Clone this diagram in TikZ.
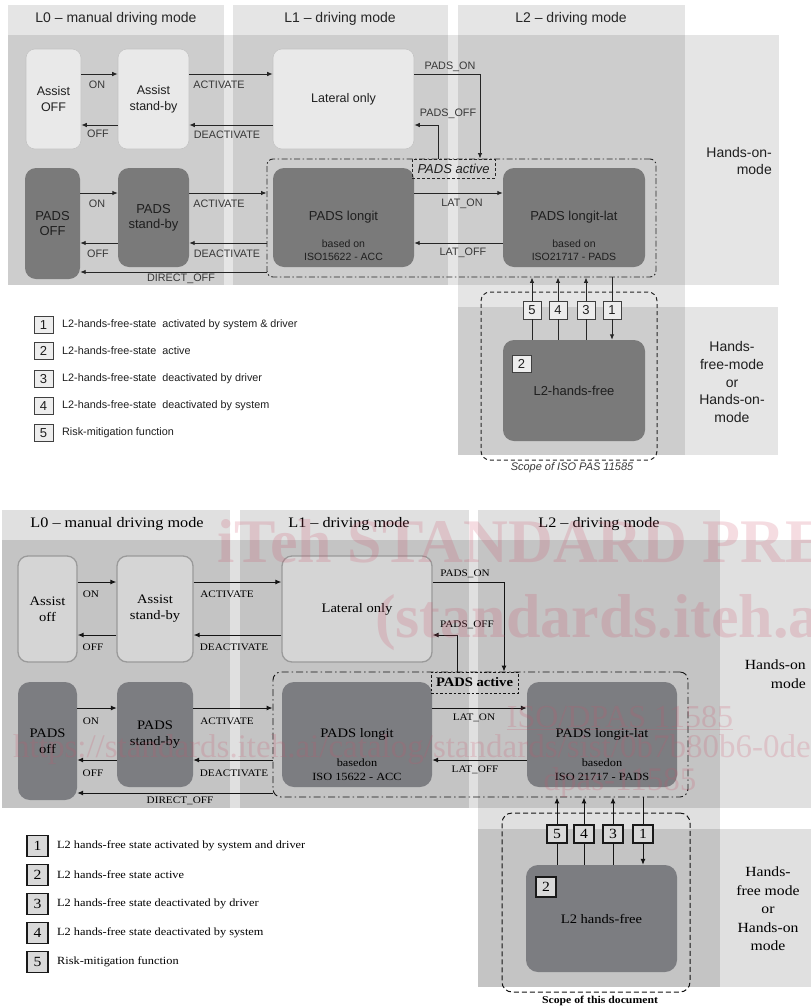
\documentclass[tikz,border=0pt]{standalone}
\usepackage{fontspec}
\setmainfont{Liberation Sans}
\newfontfamily\sfA{Liberation Sans}
\newfontfamily\srB[FakeStretch=1.12]{Liberation Serif}
\newfontfamily\wmf{Liberation Serif}
\usetikzlibrary{arrows.meta}
\newcommand\fsz[2]{\fontsize{#1}{#2}\selectfont}
\definecolor{ltA}{HTML}{E9E9E9}
\definecolor{ltAd}{HTML}{C4C4C4}
\definecolor{dkA}{HTML}{7A7A7A}
\definecolor{txA}{HTML}{1F1F1F}
\definecolor{lbA}{HTML}{383838}
\definecolor{arA}{HTML}{262626}
\definecolor{ltB}{HTML}{D5D5D5}
\definecolor{ltBd}{HTML}{9A9A9A}
\definecolor{dkB}{HTML}{7C7D81}
\definecolor{arB}{HTML}{141414}
\definecolor{wmc}{RGB}{205,80,105}
\tikzset{
  bandA/.style={fill=black, fill opacity=0.10},
  bandB/.style={fill=black, fill opacity=0.12},
  hdrA/.style={font=\sfA\fsz{14}{16}, text=black!85, inner sep=0pt},
  lnA/.style={rectangle, rounded corners=9pt, fill=ltA, draw=ltAd, line width=0.6pt, align=center, font=\sfA\fsz{12.5}{16}, text=txA, inner sep=0pt},
  dnA/.style={rectangle, rounded corners=11pt, fill=dkA, draw=none, align=center, font=\sfA\fsz{13}{15}, text=txA, inner sep=0pt},
  subA/.style={align=center, font=\sfA\fsz{10.5}{13.5}, text=txA, inner sep=0pt},
  arrA/.style={draw=arA, line width=0.9pt, -{Latex[length=5.5pt,width=4.5pt]}},
  lineA/.style={draw=arA, line width=0.9pt},
  lblA/.style={font=\sfA\fsz{10.8}{12}, text=lbA, inner sep=0.5pt},
  actA/.style={rectangle, rounded corners=6pt, draw=arA, line width=0.9pt, dash pattern=on 6pt off 2.5pt on 1.5pt off 2.5pt, inner sep=0pt},
  albA/.style={rectangle, draw=arA, line width=0.8pt, dash pattern=on 3pt off 2pt, inner sep=0pt, font=\sfA\itshape\fsz{13}{15}, text=txA},
  numA/.style={rectangle, draw=black!75, fill=black!7, line width=0.8pt, minimum width=18pt, minimum height=18pt, inner sep=0pt, font=\sfA\fsz{13}{15}, text=txA},
  scopeA/.style={rectangle, rounded corners=9pt, draw=arA, line width=1pt, dash pattern=on 4pt off 3pt, inner sep=0pt},
  handsA/.style={font=\sfA\fsz{14}{17.8}, text=txA, inner sep=0pt},
  legtA/.style={font=\sfA\fsz{10.8}{12}, text=txA, inner sep=0pt, anchor=west},
  hdrB/.style={font=\srB\fsz{14.5}{16}, text=black, inner sep=0pt},
  lnB/.style={rectangle, rounded corners=10pt, fill=ltB, draw=ltBd, line width=1.3pt, align=center, font=\srB\fsz{13}{16}, text=black, inner sep=0pt},
  dnB/.style={rectangle, rounded corners=12pt, fill=dkB, draw=none, align=center, font=\srB\fsz{13}{16}, text=black, inner sep=0pt},
  subB/.style={align=center, font=\srB\fsz{11}{14}, text=black, inner sep=0pt},
  arrB/.style={draw=arB, line width=1pt, -{Latex[length=6pt,width=5pt]}},
  lineB/.style={draw=arB, line width=1pt},
  lblB/.style={font=\srB\fsz{10}{12}, text=black, inner sep=0.5pt},
  actB/.style={rectangle, rounded corners=8pt, draw=arB, line width=0.9pt, dash pattern=on 7pt off 3pt on 1.5pt off 3pt, inner sep=0pt},
  albB/.style={rectangle, draw=arB, line width=0.8pt, dash pattern=on 2.5pt off 2pt, inner sep=0pt, font=\srB\bfseries\fsz{13}{15}, text=black},
  numB/.style={rectangle, draw=black!90, fill=black!15, line width=1.2pt, minimum width=20pt, minimum height=18pt, inner sep=0pt, font=\srB\fsz{14}{15}, text=black},
  scopeB/.style={rectangle, rounded corners=10pt, draw=arB, line width=1pt, dash pattern=on 5pt off 3pt, inner sep=0pt},
  handsB/.style={font=\srB\fsz{14}{18.5}, text=black, inner sep=0pt},
  legtB/.style={font=\srB\fsz{11}{12}, text=black, inner sep=0pt, anchor=west},
  wm/.style={text=wmc, text opacity=0.2, inner sep=0pt}
}
\begin{document}
\begin{tikzpicture}[x=1pt,y=-1pt]
\useasboundingbox (0,0) rectangle (811,1007);
\fill[white] (0,0) rectangle (811,1007);

% ================= TOP DIAGRAM =================
\fill[bandA] (8,5) rectangle (224,285);
\fill[bandA] (233,5) rectangle (448,285);
\fill[bandA] (458,5) rectangle (685,455);
\fill[bandA] (8,35) rectangle (779,285);
\fill[bandA] (458,307) rectangle (778,455);

\node[hdrA] (h0) at (116,19) {L0 – manual driving mode};
\node[hdrA] (h1) at (340,19) {L1 – driving mode};
\node[hdrA] (h2) at (571,19) {L2 – driving mode};

\node[lnA, minimum width=55pt, minimum height=100pt] (aoff) at (53.5,99) {Assist\\OFF};
\node[lnA, minimum width=71pt, minimum height=100pt] (asb) at (153.5,99) {Assist\\stand-by};
\node[lnA, minimum width=141pt, minimum height=100pt] (lat) at (343.5,99) {Lateral only};
\node[dnA, minimum width=55pt, minimum height=111pt] (poff) at (52.5,223.5) {PADS\\OFF};
\node[dnA, minimum width=71pt, minimum height=99pt] (psb) at (153.5,217.5) {PADS\\stand-by};
\node[dnA, minimum width=141pt, minimum height=99pt] (plong) at (343.5,217.5) {PADS longit};
\node[subA] (plongS) at (343.5,250) {based on\\ISO15622 - ACC};
\node[dnA, minimum width=142pt, minimum height=99pt] (plat) at (574,217.5) {PADS longit-lat};
\node[subA] (platS) at (574,250) {based on\\ISO21717 - PADS};
\node[actA, minimum width=389pt, minimum height=118pt] (active) at (461.5,218) {};
\node[albA, minimum width=83pt, minimum height=19pt] (albl) at (453.5,168.5) {PADS active};

\coordinate (ya1) at (0,74);
\coordinate (yb1) at (0,125);
\coordinate (ya2) at (0,193);
\coordinate (yb2) at (0,243);
\coordinate (yc2) at (0,272);
\coordinate (xon) at (480,0);
\coordinate (xoff) at (438,0);

\draw[arrA] (aoff.east |- ya1) -- (asb.west |- ya1);
\draw[arrA] (asb.west |- yb1) -- (aoff.east |- yb1);
\draw[arrA] (asb.east |- ya1) -- (lat.west |- ya1);
\draw[arrA] (lat.west |- yb1) -- (asb.east |- yb1);
\draw[arrA] (poff.east |- ya2) -- (psb.west |- ya2);
\draw[arrA] (psb.west |- yb2) -- (poff.east |- yb2);
\draw[arrA] (psb.east |- ya2) -- (active.west |- ya2);
\draw[arrA] (active.west |- yb2) -- (psb.east |- yb2);
\draw[arrA] (active.west |- yc2) -- (poff.east |- yc2);
\draw[arrA] (plong.east |- ya2) -- (plat.west |- ya2);
\draw[arrA] (plat.west |- yb2) -- (plong.east |- yb2);
\draw[arrA] (lat.east |- ya1) -| (xon |- active.north);
\draw[arrA] (xoff |- active.north) |- (lat.east |- yb1);

\node[lblA] (l1) at (97,85) {ON};
\node[lblA] (l2) at (98,134) {OFF};
\node[lblA] (l3) at (219,85) {ACTIVATE};
\node[lblA] (l4) at (227,135) {DEACTIVATE};
\node[lblA] (l5) at (97,204) {ON};
\node[lblA] (l6) at (98,254) {OFF};
\node[lblA] (l7) at (219,204) {ACTIVATE};
\node[lblA] (l8) at (227,254) {DEACTIVATE};
\node[lblA] (l9) at (181,279) {DIRECT\_OFF};
\node[lblA] (l10) at (462,204) {LAT\_ON};
\node[lblA] (l11) at (463,253) {LAT\_OFF};
\node[lblA] (l12) at (450,67) {PADS\_ON};
\node[lblA] (l13) at (448,114) {PADS\_OFF};

\node[handsA, anchor=east, align=right] (hon) at (772,161) {Hands-on-\\mode};
\node[handsA, align=center] (hfree) at (732,382) {Hands-\\free-mode\\or\\Hands-on-\\mode};

\node[dnA, minimum width=142pt, minimum height=101pt] (hf) at (574,390.5) {L2-hands-free};
\node[numA, minimum width=19pt, minimum height=17pt] (n2) at (521.5,363.5) {2};
\node[numA] (b5) at (532,310) {5};
\node[numA] (b4) at (558,310) {4};
\node[numA] (b3) at (586,310) {3};
\node[numA] (b1) at (612,310) {1};
\foreach \b in {b5,b4,b3}{
  \draw[arrA] (\b.north) -- (\b.north |- active.south);
  \draw[lineA] (hf.north -| \b) -- (\b.south);
}
\draw[lineA] (b1.north |- active.south) -- (b1.north);
\draw[arrA] (b1.south) -- (hf.north -| b1);
\node[scopeA, minimum width=176pt, minimum height=168pt] (scope) at (569,376) {};
\node[lblA, font=\sfA\itshape\fsz{11}{12}] (scopel) at (572,468) {Scope of ISO PAS 11585};

\node[numA, minimum width=19pt, minimum height=17pt] (k1) at (43.5,325) {1};
\node[numA, minimum width=19pt, minimum height=17pt] (k2) at (43.5,351) {2};
\node[numA, minimum width=19pt, minimum height=17pt] (k3) at (43.5,379) {3};
\node[numA, minimum width=19pt, minimum height=17pt] (k4) at (43.5,406) {4};
\node[numA, minimum width=19pt, minimum height=17pt] (k5) at (43.5,433) {5};
\node[legtA] (t1) at (62,325) {L2-hands-free-state \ activated by system \& driver};
\node[legtA] (t2) at (62,351) {L2-hands-free-state \ active};
\node[legtA] (t3) at (62,379) {L2-hands-free-state \ deactivated by driver};
\node[legtA] (t4) at (62,406) {L2-hands-free-state \ deactivated by system};
\node[legtA] (t5) at (62,433) {Risk-mitigation function};

% ================= BOTTOM DIAGRAM =================
\fill[bandB] (2,510) rectangle (230,808);
\fill[bandB] (240,510) rectangle (469,808);
\fill[bandB] (478,510) rectangle (720,987);
\fill[bandB] (2,540) rectangle (811,808);
\fill[bandB] (478,829) rectangle (811,987);

\node[hdrB] (H0) at (117,524) {L0 – manual driving mode};
\node[hdrB] (H1) at (349,524) {L1 – driving mode};
\node[hdrB] (H2) at (599,524) {L2 – driving mode};

\node[lnB, minimum width=59pt, minimum height=106pt] (aoffB) at (47.5,609) {Assist\\off};
\node[lnB, minimum width=76pt, minimum height=106pt] (asbB) at (155,609) {Assist\\stand-by};
\node[lnB, minimum width=150pt, minimum height=106pt] (latB) at (357,609) {Lateral only};
\node[dnB, minimum width=59pt, minimum height=118pt] (poffB) at (47.5,741) {PADS\\off};
\node[dnB, minimum width=76pt, minimum height=105pt] (psbB) at (155,734.5) {PADS\\stand-by};
\node[dnB, minimum width=150pt, minimum height=105pt] (plongB) at (357,734.5) {PADS longit};
\node[subB] (plongSB) at (357,770) {basedon\\ISO 15622 - ACC};
\node[dnB, minimum width=150pt, minimum height=105pt] (platB) at (602,734.5) {PADS longit-lat};
\node[subB] (platSB) at (602,770) {basedon\\ISO 21717 - PADS};
\node[actB, minimum width=415pt, minimum height=125pt] (activeB) at (480.5,734.5) {};
\node[albB, minimum width=87pt, minimum height=21pt] (alblB) at (474.5,682.5) {PADS active};

\coordinate (Ya1) at (0,582);
\coordinate (Yb1) at (0,635);
\coordinate (Ya2) at (0,708);
\coordinate (Yb2) at (0,760);
\coordinate (Yc2) at (0,793);
\coordinate (Xon) at (504,0);
\coordinate (Xoff) at (457,0);

\draw[arrB] (aoffB.east |- Ya1) -- (asbB.west |- Ya1);
\draw[arrB] (asbB.west |- Yb1) -- (aoffB.east |- Yb1);
\draw[arrB] (asbB.east |- Ya1) -- (latB.west |- Ya1);
\draw[arrB] (latB.west |- Yb1) -- (asbB.east |- Yb1);
\draw[arrB] (poffB.east |- Ya2) -- (psbB.west |- Ya2);
\draw[arrB] (psbB.west |- Yb2) -- (poffB.east |- Yb2);
\draw[arrB] (psbB.east |- Ya2) -- (activeB.west |- Ya2);
\draw[arrB] (activeB.west |- Yb2) -- (psbB.east |- Yb2);
\draw[arrB] (activeB.west |- Yc2) -- (poffB.east |- Yc2);
\draw[arrB] (plongB.east |- Ya2) -- (platB.west |- Ya2);
\draw[arrB] (platB.west |- Yb2) -- (plongB.east |- Yb2);
\draw[arrB] (latB.east |- Ya1) -| (Xon |- activeB.north);
\draw[arrB] (Xoff |- activeB.north) |- (latB.east |- Yb1);

\node[lblB] (L1) at (91,594) {ON};
\node[lblB] (L2) at (93,647) {OFF};
\node[lblB] (L3) at (227,594) {ACTIVATE};
\node[lblB] (L4) at (234,647) {DEACTIVATE};
\node[lblB] (L5) at (91,721) {ON};
\node[lblB] (L6) at (93,773) {OFF};
\node[lblB] (L7) at (227,721) {ACTIVATE};
\node[lblB] (L8) at (234,773) {DEACTIVATE};
\node[lblB] (L9) at (180,801) {DIRECT\_OFF};
\node[lblB] (L10) at (474,718) {LAT\_ON};
\node[lblB] (L11) at (475,770) {LAT\_OFF};
\node[lblB] (L12) at (465,574) {PADS\_ON};
\node[lblB] (L13) at (467,625) {PADS\_OFF};

\node[handsB, anchor=east, align=right] (honB) at (806,674) {Hands-on\\mode};
\node[handsB, align=center] (hfreeB) at (768,909) {Hands-\\free mode\\or\\Hands-on\\mode};

\node[dnB, minimum width=151pt, minimum height=107pt] (hfB) at (601.5,918.5) {L2 hands-free};
\node[numB, minimum height=20pt] (n2B) at (546,887) {2};
\node[numB] (c5) at (557,834) {5};
\node[numB] (c4) at (584,834) {4};
\node[numB] (c3) at (613,834) {3};
\node[numB] (c1) at (643,834) {1};
\foreach \b in {c5,c4,c3}{
  \draw[arrB] (\b.north) -- (\b.north |- activeB.south);
  \draw[lineB] (hfB.north -| \b) -- (\b.south);
}
\draw[lineB] (c1.north |- activeB.south) -- (c1.north);
\draw[arrB] (c1.south) -- (hfB.north -| c1);
\node[scopeB, minimum width=188pt, minimum height=179pt] (scopeB) at (596,902.5) {};
\node[lblB, font=\srB\bfseries\fsz{10.5}{12}] (scopelB) at (600,1001) {Scope of this document};

\node[numB, minimum width=21pt, minimum height=21pt] (K1) at (37.5,846) {1};
\node[numB, minimum width=21pt, minimum height=21pt] (K2) at (37.5,875) {2};
\node[numB, minimum width=21pt, minimum height=21pt] (K3) at (37.5,904) {3};
\node[numB, minimum width=21pt, minimum height=21pt] (K4) at (37.5,933) {4};
\node[numB, minimum width=21pt, minimum height=21pt] (K5) at (37.5,962) {5};
\node[legtB] (T1) at (57,846) {L2 hands-free state activated by system and driver};
\node[legtB] (T2) at (57,875) {L2 hands-free state active};
\node[legtB] (T3) at (57,904) {L2 hands-free state deactivated by driver};
\node[legtB] (T4) at (57,933) {L2 hands-free state deactivated by system};
\node[legtB] (T5) at (57,962) {Risk-mitigation function};

% ================= WATERMARK =================
\node[wm, anchor=base west, font=\wmf\bfseries\fsz{62}{70}] (wm1) at (217,562) {iTeh STANDARD PREVIEW};
\node[wm, anchor=base west, font=\wmf\bfseries\fsz{62}{70}] (wm2) at (375,637) {(standards.iteh.ai)};
\node[wm, anchor=base, font=\wmf\fsz{32}{36}] (wm3) at (620,727) {\underline{ISO/DPAS 11585}};
\node[wm, anchor=base west, font=\wmf\fsz{33}{36}] (wm4) at (13,757) {https://standards.iteh.ai/catalog/standards/sist/0b7b80b6-0def};
\node[wm, anchor=base, font=\wmf\fsz{33}{36}] (wm5) at (620,790) {dpas-11585};
\end{tikzpicture}
\end{document}
